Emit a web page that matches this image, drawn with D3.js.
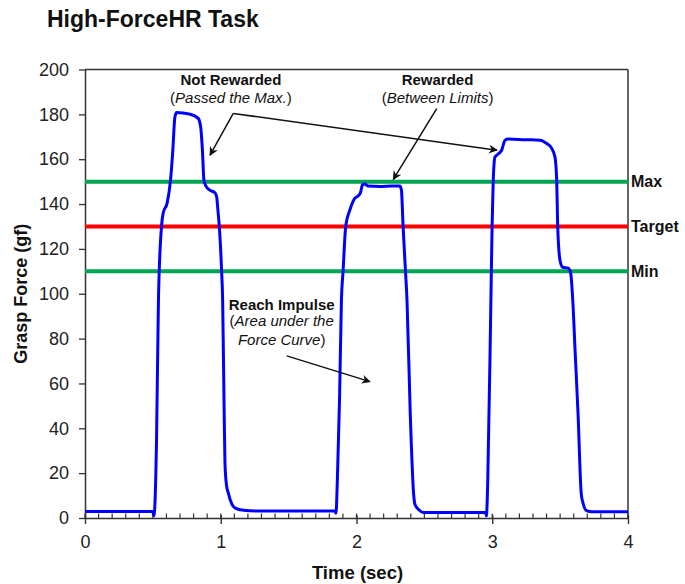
<!DOCTYPE html>
<html>
<head>
<meta charset="utf-8">
<script src="https://cdn.jsdelivr.net/npm/d3@7"></script>
<style>
  body { margin: 0; background: #fff; }
  svg { display: block; font-family: "Liberation Sans", Arial, Helvetica, sans-serif; }
</style>
</head>
<body>
<svg id="chart" width="685" height="584"></svg>
<script>
// Grasp force trace over a 4-second high-force trial
const timeSec = [
  0.000, 0.499, 0.508, 0.527, 0.541, 0.564, 0.576, 0.605, 0.630, 0.647, 0.662, 0.675,
  0.721, 0.773, 0.834, 0.852, 0.865, 0.876, 0.891, 0.920, 0.957, 0.970, 0.979, 0.989,
  1.006, 1.014, 1.024, 1.031, 1.042, 1.055, 1.072, 1.092, 1.127, 1.166, 1.289, 1.584,
  1.842, 1.849, 1.859, 1.875, 1.889, 1.901, 1.921, 1.951, 1.987, 2.012, 2.029, 2.044,
  2.061, 2.086, 2.172, 2.260, 2.319, 2.331, 2.343, 2.361, 2.372, 2.396, 2.421, 2.431,
  2.459, 2.493, 2.687, 2.950, 2.957, 2.967, 2.990, 2.999, 3.007, 3.020, 3.044, 3.069,
  3.094, 3.118, 3.241, 3.352, 3.401, 3.438, 3.462, 3.475, 3.482, 3.499, 3.519, 3.560,
  3.578, 3.593, 3.610, 3.632, 3.656, 3.672, 3.694, 3.735, 4.000
];
const forceGf = [
  2.9, 2.9, 1.0, 35.0, 97.0, 130.3, 136.0, 140.4, 150.7, 164.0, 178.7, 180.8,
  180.6, 180.1, 178.2, 174.4, 164.0, 150.7, 148.0, 146.2, 145.0, 143.2, 137.3, 130.3,
  110.6, 97.2, 52.7, 24.6, 14.8, 11.3, 7.7, 5.2, 3.9, 3.5, 3.1, 3.1,
  3.1, 2.1, 17.0, 52.7, 97.2, 110.0, 130.3, 137.3, 142.5, 143.6, 145.0, 148.5,
  148.9, 148.0, 147.8, 148.0, 148.0, 146.2, 130.3, 110.0, 97.2, 46.5, 10.5, 6.0,
  3.7, 2.5, 2.4, 2.4, 1.0, 16.6, 97.2, 130.3, 150.2, 161.0, 162.3, 164.0,
  168.5, 169.0, 168.7, 168.5, 167.0, 164.8, 161.0, 150.2, 130.3, 115.0, 111.8, 111.4,
  109.1, 97.2, 75.0, 46.5, 10.5, 6.0, 3.3, 2.8, 2.8
];

// Force criteria lines
const limitValues = [150, 130, 110];
const limitNames = ["Max", "Target", "Min"];
const limitColors = ["#00a651", "#ff0000", "#00a651"];

// Axis ticks
const xTicks = [0, 1, 2, 3, 4];
const xMinorTicks = d3.range(0, 40.5, 1).map(i => i / 10);
const yTicks = [0, 20, 40, 60, 80, 100, 120, 140, 160, 180, 200];

// Annotations: text lines anchored in data units, arrows from -> to
const noteLines = [
  { t: 1.075, f: 193.0, text: "Not Rewarded", bold: true },
  { t: 1.075, f: 184.9, text: "Passed the Max.", paren: true },
  { t: 2.597, f: 193.0, text: "Rewarded", bold: true },
  { t: 2.597, f: 184.9, text: "Between Limits", paren: true },
  { t: 1.449, f: 92.8, text: "Reach Impulse", bold: true },
  { t: 1.449, f: 85.5, text: "Area under the", parenOpen: true },
  { t: 1.449, f: 77.3, text: "Force Curve", parenClose: true }
];
const arrows = [
  { t0: 1.092, f0: 180.4, t1: 0.921, f1: 161.8 },
  { t0: 1.092, f0: 180.4, t1: 3.035, f1: 164.0 },
  { t0: 2.591, f0: 182.6, t1: 2.271, f1: 151.0 },
  { t0: 1.486, f0: 72.3, t1: 2.099, f1: 60.8 }
];

const svg = d3.select("#chart");
const margin = { left: 85, top: 69.5, right: 57, bottom: 66 };
const W = 685 - margin.left - margin.right;
const H = 584 - margin.top - margin.bottom;

const x = d3.scaleLinear().domain([0, 4]).range([0, W]);
const y = d3.scaleLinear().domain([0, 200]).range([H, 0]);

const g = svg.append("g").attr("transform", `translate(${margin.left},${margin.top})`);
const axisColor = "#333";

// Title
svg.append("text")
  .attr("x", 47).attr("y", 27)
  .attr("font-size", 23).attr("font-weight", "bold").attr("fill", "#111")
  .text("High-ForceHR Task");

// Frame (top and right edges)
g.append("line").attr("x1", 0).attr("x2", W).attr("y1", 0).attr("y2", 0)
  .attr("stroke", axisColor).attr("stroke-width", 1.5);
g.append("line").attr("x1", W).attr("x2", W).attr("y1", 0).attr("y2", H)
  .attr("stroke", axisColor).attr("stroke-width", 1.5);

// Y axis
const yAxis = g.append("g")
  .call(d3.axisLeft(y).tickValues(yTicks).tickSize(6).tickPadding(10).tickSizeOuter(0));
yAxis.select(".domain").attr("stroke", axisColor).attr("stroke-width", 1.5);
yAxis.selectAll(".tick line").attr("stroke", axisColor).attr("stroke-width", 1.3);
yAxis.selectAll(".tick text").attr("font-size", 18).attr("fill", "#222")
  .attr("font-family", "Liberation Sans, Arial, sans-serif");

// X axis: minor ticks inward, major ticks outward
g.append("g").selectAll("line").data(xMinorTicks).join("line")
  .attr("x1", d => x(d)).attr("x2", d => x(d))
  .attr("y1", H - 4.5).attr("y2", H)
  .attr("stroke", axisColor).attr("stroke-width", 1.2);
const xAxis = g.append("g").attr("transform", `translate(0,${H})`)
  .call(d3.axisBottom(x).tickValues(xTicks).tickFormat(d3.format("d"))
    .tickSize(6).tickPadding(11).tickSizeOuter(0));
xAxis.select(".domain").attr("stroke", axisColor).attr("stroke-width", 1.5);
xAxis.selectAll(".tick line").attr("stroke", axisColor).attr("stroke-width", 1.4)
  .attr("y1", -3);
xAxis.selectAll(".tick text").attr("font-size", 18).attr("fill", "#222")
  .attr("font-family", "Liberation Sans, Arial, sans-serif");

// Axis titles
svg.append("text")
  .attr("x", margin.left + W / 2 + 1).attr("y", 579)
  .attr("text-anchor", "middle").attr("font-size", 18.5).attr("font-weight", "bold").attr("fill", "#111")
  .text("Time (sec)");
svg.append("text")
  .attr("transform", `translate(27,${margin.top + H / 2}) rotate(-90)`)
  .attr("text-anchor", "middle").attr("font-size", 18).attr("font-weight", "bold").attr("fill", "#111")
  .text("Grasp Force (gf)");

// Criteria lines with labels
limitValues.forEach((v, i) => {
  g.append("line")
    .attr("x1", 0).attr("x2", W).attr("y1", y(v)).attr("y2", y(v))
    .attr("stroke", limitColors[i]).attr("stroke-width", 4);
  g.append("text")
    .attr("x", W + 3).attr("y", y(v)).attr("dy", "0.36em")
    .attr("font-size", 16).attr("font-weight", "bold").attr("fill", "#111")
    .text(limitNames[i]);
});

// Force trace
const trace = timeSec.map((t, i) => [t, forceGf[i]]);
g.append("path")
  .datum(trace)
  .attr("fill", "none")
  .attr("stroke", "#0000ff")
  .attr("stroke-width", 3)
  .attr("stroke-linejoin", "round")
  .attr("d", d3.line().x(d => x(d[0])).y(d => y(d[1])).curve(d3.curveMonotoneX));

// Arrowhead marker
svg.append("defs").append("marker")
  .attr("id", "head").attr("viewBox", "0 0 10 10")
  .attr("refX", 9).attr("refY", 5)
  .attr("markerWidth", 10).attr("markerHeight", 9)
  .attr("markerUnits", "userSpaceOnUse")
  .attr("orient", "auto")
  .append("path").attr("d", "M0,0 L10,5 L0,10 L3,5 Z").attr("fill", "#111");

g.append("g").selectAll("line").data(arrows).join("line")
  .attr("x1", d => x(d.t0)).attr("y1", d => y(d.f0))
  .attr("x2", d => x(d.t1)).attr("y2", d => y(d.f1))
  .attr("stroke", "#111").attr("stroke-width", 1.5)
  .attr("marker-end", "url(#head)");

// Annotation text
noteLines.forEach(n => {
  const t = g.append("text")
    .attr("x", x(n.t)).attr("y", y(n.f))
    .attr("text-anchor", "middle").attr("font-size", 15).attr("fill", "#111");
  if (n.bold) {
    t.attr("font-weight", "bold").text(n.text);
    return;
  }
  if (n.paren || n.parenOpen) t.append("tspan").text("(");
  t.append("tspan").attr("font-style", "italic").text(n.text);
  if (n.paren || n.parenClose) t.append("tspan").text(")");
});
</script>
</body>
</html>
